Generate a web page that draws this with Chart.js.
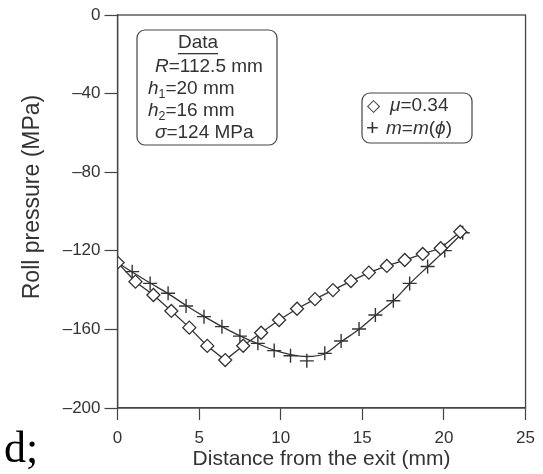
<!DOCTYPE html>
<html>
<head>
<meta charset="utf-8">
<script src="https://cdn.jsdelivr.net/npm/chart.js@4.4.0/dist/chart.umd.min.js"></script>
<style>
  html, body { margin: 0; padding: 0; background: #fff; }
  #wrap { width: 543px; height: 474px; position: relative; }
</style>
</head>
<body>
<div id="wrap"><canvas id="myChart"></canvas></div>
<script>
  // DATA
  const muX = [0, 1.1, 2.2, 3.3, 4.4, 5.5, 6.6, 7.7, 8.8, 9.9, 11.0, 12.1, 13.2, 14.3, 15.4, 16.5, 17.6, 18.7, 19.8, 21.0];
  const muY = [-126, -135.7, -142.5, -150.6, -159.1, -168.4, -175.6, -168.3, -161.7, -155.2, -149.5, -144.6, -140, -135.4, -131.1, -127.7, -124.7, -121.6, -118.7, -110.3];

  // plus markers (m = m(phi))
  const mX = [0, 0.9, 2.0, 3.1, 4.2, 5.3, 6.4, 7.5, 8.6, 9.6, 10.6, 11.6, 12.7, 13.7, 14.8, 15.8, 16.9, 17.9, 19.0, 20.05, 21.15];
  const mY = [-126, -130.6, -136.6, -141.6, -148.1, -153.5, -158.6, -163.4, -167.1, -170.8, -173.4, -176, -172.2, -165.9, -159.8, -152.7, -145.4, -136.6, -128, -119.9, -110.8];
  // the smooth curve drawn through the plus markers
  const mCurveY = [-126, -130.8, -136.4, -141.8, -147.8, -153.4, -158.6, -163.3, -167.3, -170.6, -172.8, -173.8, -172.4, -166.3, -159.9, -152.9, -145.4, -136.8, -128.1, -119.9, -110.8];

  const xTicks = [0, 5, 10, 15, 20, 25];
  const yTicks = [0, -40, -80, -120, -160, -200];

  const ink = '#333';
  const sans = '"Liberation Sans", Arial, sans-serif';

  // draw a line of mixed italic / normal / subscript pieces
  function richText(ctx, x, y, parts, size) {
    ctx.textBaseline = 'middle';
    ctx.textAlign = 'left';
    parts.forEach(p => {
      const s = p.sub ? size * 0.65 : size;
      ctx.font = (p.it ? 'italic ' : '') + s + 'px ' + sans;
      ctx.fillText(p.t, x, p.sub ? y + size * 0.3 : y);
      x += ctx.measureText(p.t).width;
    });
    return x;
  }

  function roundBox(ctx, x, y, w, h, r) {
    ctx.beginPath();
    ctx.moveTo(x + r, y);
    ctx.arcTo(x + w, y, x + w, y + h, r);
    ctx.arcTo(x + w, y + h, x, y + h, r);
    ctx.arcTo(x, y + h, x, y, r);
    ctx.arcTo(x, y, x + w, y, r);
    ctx.closePath();
    ctx.stroke();
  }

  const extras = {
    id: 'extras',
    afterDraw(chart) {
      const ctx = chart.ctx;
      const a = chart.chartArea;
      ctx.save();
      // frame
      ctx.strokeStyle = '#444';
      ctx.lineWidth = 1.3;
      ctx.strokeRect(a.left, a.top, a.right - a.left, a.bottom - a.top);

      ctx.fillStyle = ink;
      // y title, a bit above the axis centre like the original
      ctx.save();
      ctx.translate(33, 197);
      ctx.rotate(-Math.PI / 2);
      ctx.font = '23px ' + sans;
      ctx.textAlign = 'center';
      ctx.textBaseline = 'middle';
      ctx.fillText('Roll pressure (MPa)', 0, 0);
      ctx.restore();

      // data box
      ctx.lineWidth = 1.2;
      roundBox(ctx, 137, 30, 140, 115, 8);
      ctx.font = '19px ' + sans;
      ctx.textAlign = 'center';
      ctx.textBaseline = 'middle';
      ctx.fillText('Data', 198, 43);
      const dw = ctx.measureText('Data').width;
      ctx.fillRect(198 - dw / 2, 53, dw, 1.3);
      const fs = 19;
      richText(ctx, 155, 67, [{t: 'R', it: true}, {t: '=112.5 mm'}], fs);
      richText(ctx, 148, 89, [{t: 'h', it: true}, {t: '1', sub: true}, {t: '=20 mm'}], fs);
      richText(ctx, 148, 111, [{t: 'h', it: true}, {t: '2', sub: true}, {t: '=16 mm'}], fs);
      richText(ctx, 155, 133, [{t: 'σ', it: true}, {t: '=124 MPa'}], fs);

      // legend box
      roundBox(ctx, 362, 93, 110, 50, 8);
      richText(ctx, 367, 106, [{t: '◇'}], 17);
      richText(ctx, 390, 106, [{t: 'μ', it: true}, {t: '=0.34'}], fs);
      richText(ctx, 366, 129, [{t: '+'}], 22);
      richText(ctx, 386, 129, [{t: 'm', it: true}, {t: '='}, {t: 'm', it: true}, {t: '('}, {t: 'ϕ', it: true}, {t: ')'}], fs);

      // stray text at bottom left
      ctx.fillStyle = '#000';
      ctx.font = '44px "Liberation Serif", "Times New Roman", serif';
      ctx.textAlign = 'left';
      ctx.textBaseline = 'alphabetic';
      ctx.fillText('d;', 4, 462);
      ctx.restore();
    }
  };

  const data = {
    datasets: [
      {
        label: 'mu',
        data: muX.map((x, i) => ({x: x, y: muY[i]})),
        borderColor: ink,
        backgroundColor: '#fff',
        borderWidth: 1.3,
        showLine: true,
        pointStyle: 'rectRot',
        pointRadius: 6.5,
        pointBorderWidth: 1.3,
        pointBackgroundColor: '#fff',
        tension: 0
      },
      {
        label: 'm curve',
        data: mX.map((x, i) => ({x: x, y: mCurveY[i]})),
        borderColor: ink,
        borderWidth: 1.3,
        showLine: true,
        pointRadius: 0,
        cubicInterpolationMode: 'monotone'
      },
      {
        label: 'm',
        data: mX.map((x, i) => ({x: x, y: mY[i]})),
        borderColor: ink,
        showLine: false,
        pointStyle: 'cross',
        pointRadius: 7,
        pointBorderWidth: 1.4
      }
    ]
  };

  const config = {
    type: 'scatter',
    data,
    options: {
      responsive: true,
      maintainAspectRatio: false,
      animation: false,
      layout: { padding: { top: 15, right: 11, left: 0, bottom: 0 } },
      plugins: { legend: { display: false }, tooltip: { enabled: false } },
      scales: {
        x: {
          type: 'linear',
          min: 0, max: 25,
          afterBuildTicks: s => { s.ticks = xTicks.map(v => ({value: v})); },
          afterFit: s => { s.height = 66; },
          grid: { drawOnChartArea: false, tickLength: 12, color: '#444', tickWidth: 1.2 },
          border: { color: '#444', width: 1.3 },
          ticks: { color: ink, font: { size: 17, family: sans }, padding: 8, maxRotation: 0 },
          title: { display: true, text: 'Distance from the exit (mm)', color: ink,
                   font: { size: 21, family: sans }, padding: { top: 0, bottom: 2 } }
        },
        y: {
          type: 'linear',
          min: -200, max: 0,
          afterBuildTicks: s => { s.ticks = yTicks.map(v => ({value: v})); },
          afterFit: s => { s.width = 117.5; },
          grid: { drawOnChartArea: false, tickLength: 13, color: '#444', tickWidth: 1.2 },
          border: { color: '#444', width: 1.3 },
          ticks: { color: ink, font: { size: 17, family: sans }, padding: 4,
                   callback: v => v < 0 ? '\u2013' + Math.abs(v) : String(v) },
          title: { display: false }
        }
      }
    },
    plugins: [extras]
  };

  var myChart = new Chart(document.getElementById('myChart'), config);
</script>
</body>
</html>
